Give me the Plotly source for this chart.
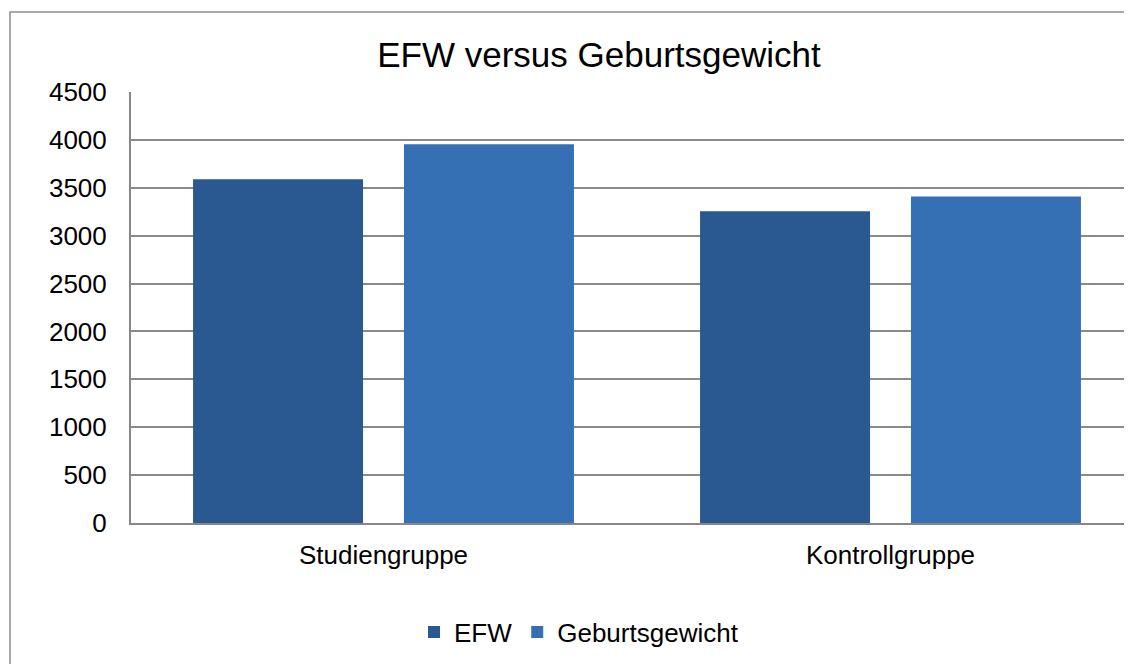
import plotly.graph_objects as go

categories = ["Studiengruppe", "Kontrollgruppe"]
efw = [3590, 3255]
geburtsgewicht = [3955, 3410]
series_names = ["EFW", "Geburtsgewicht"]
y_ticks = [0, 500, 1000, 1500, 2000, 2500, 3000, 3500, 4000, 4500]

OFF = 8  # default page body margin
W, H = 1132 - OFF, 664 - OFF
FONT = "Liberation Sans, Arial, sans-serif"


def px_x(p):
    return (p - OFF) / W


def px_y(p):
    return 1 - (p - OFF) / H


fig = go.Figure()
fig.add_trace(go.Bar(x=categories, y=efw, name=series_names[0],
                     marker=dict(color="#2A5890", line=dict(width=0))))
fig.add_trace(go.Bar(x=categories, y=geburtsgewicht, name=series_names[1],
                     marker=dict(color="#3570B5", line=dict(width=0))))

px_left, px_right = 131, 1132
px_top, px_bottom = 92, 523
cat_px = [383.5, 890.5]
unit = cat_px[1] - cat_px[0]

fig.update_layout(
    width=W, height=H,
    margin=dict(l=0, r=0, t=0, b=0),
    paper_bgcolor="white", plot_bgcolor="white",
    font=dict(family=FONT, size=26, color="black"),
    barmode="group", bargap=0.168, bargroupgap=0.194,
    title=dict(text="EFW versus Geburtsgewicht", x=px_x(599), xanchor="center",
               y=px_y(55), yanchor="middle", yref="container",
               font=dict(size=35, family=FONT, color="black")),
    xaxis=dict(domain=[px_x(px_left), 1],
               range=[-(cat_px[0] - px_left) / unit, 1 + (px_right - cat_px[1]) / unit],
               showline=True, linecolor="#878787", linewidth=2,
               showgrid=False, ticks="", ticklabelstandoff=8,
               tickfont=dict(size=26, family=FONT), automargin=False),
    yaxis=dict(domain=[px_y(px_bottom), px_y(px_top)],
               range=[0, 4500], tickvals=y_ticks,
               showline=True, linecolor="#878787", linewidth=2,
               showgrid=True, gridcolor="#8a8a8a", gridwidth=1.5,
               zeroline=False, ticks="", ticklabelstandoff=17,
               tickfont=dict(size=26, family=FONT), automargin=False),
    legend=dict(orientation="h", x=px_x(579), xanchor="center",
                y=px_y(632), yanchor="middle",
                font=dict(size=26, family=FONT), itemwidth=30,
                traceorder="normal"),
    showlegend=True,
)

fig.add_shape(type="path", xref="paper", yref="paper",
              path=f"M {px_x(10)},0 L {px_x(10)},{px_y(12)} L 1,{px_y(12)}",
              line=dict(color="#8c8c8c", width=1.5))

fig.write_html("out.html")
